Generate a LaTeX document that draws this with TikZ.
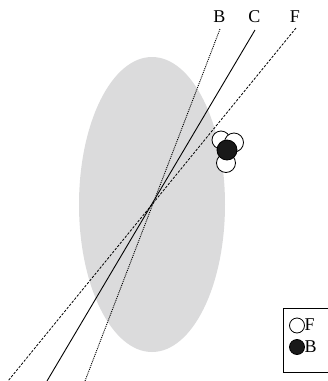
\documentclass[tikz,border=0pt]{standalone}
\usepackage{fontspec}
\setmainfont{Liberation Serif}
\begin{document}
\begin{tikzpicture}[x=1pt,y=-1pt,
  lbl/.style={font=\fontsize{18}{20}\selectfont, inner sep=0pt},
  wcirc/.style={draw=black, fill=white, line width=0.8pt},
  bcirc/.style={draw=black, fill=black!90, line width=0.8pt},
  lineC/.style={line width=0.9pt},
  lineB/.style={line width=0.9pt, dash pattern=on 1pt off 1pt},
  lineF/.style={line width=0.8pt, dash pattern=on 2.5pt off 1.5pt}]
\useasboundingbox (0,0) rectangle (328,381);
\begin{scope}
\clip (0,0) rectangle (328,381);
% ellipse
\fill[fill={rgb,255:red,219;green,219;blue,220}] (152,204.5) ellipse [x radius=73, y radius=147.5];
% coordinates
\coordinate (Ctop) at (255,30);
\coordinate (Cbot) at (47,381);
\coordinate (Btop) at (220,29);
\coordinate (Bbot) at (85,381);
\coordinate (Ftop) at (296,28);
\coordinate (Fbot) at (8,381);
\draw[lineC] (Ctop) -- (Cbot);
\draw[lineB] (Btop) -- (Bbot);
\draw[lineF] (Ftop) -- (Fbot);
% circles
\node[wcirc, circle, minimum size=18pt, inner sep=0pt] (w1) at (221,140) {};
\node[wcirc, circle, minimum size=19pt, inner sep=0pt] (w2) at (234,142.5) {};
\node[wcirc, circle, minimum size=19pt, inner sep=0pt] (w3) at (226,163) {};
\node[bcirc, circle, minimum size=20pt, inner sep=0pt] (b1) at (227,150) {};
% legend
\draw[line width=0.7pt] (283,308) rectangle (340,372);
\node[wcirc, circle, minimum size=15pt, inner sep=0pt] (lw) at (297,325.5) {};
\node[bcirc, circle, minimum size=15pt, inner sep=0pt] (lb) at (297,347) {};
\node[lbl, anchor=west] (lF) at (304.5,324.5) {F};
\node[lbl, anchor=west] (lB) at (304.5,346.5) {B};
\end{scope}
% labels
\node[lbl] (tB) at (219.5,17) {B};
\node[lbl] (tC) at (254.5,17) {C};
\node[lbl] (tF) at (295,17) {F};
\end{tikzpicture}
\end{document}
